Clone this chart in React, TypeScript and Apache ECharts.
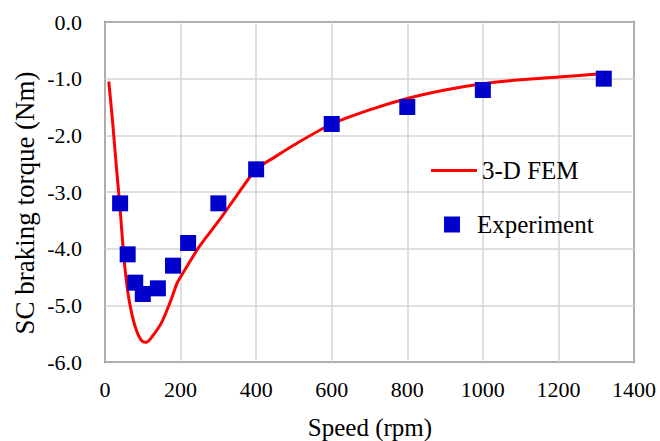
import React, { useEffect, useRef } from "react";
import * as echarts from "echarts";

const femSpeed = [10, 20, 30, 40, 50, 60, 70, 80, 90, 100, 110, 125, 150, 175, 190, 200, 250, 300, 350, 400, 450, 500, 600, 700, 800, 900, 1000, 1100, 1200, 1320];
const femTorque = [-1.05, -1.75, -2.55, -3.3, -4.15, -4.75, -5.12, -5.38, -5.55, -5.64, -5.65, -5.55, -5.3, -4.9, -4.62, -4.5, -3.96, -3.52, -3.05, -2.6, -2.38, -2.17, -1.8, -1.55, -1.35, -1.2, -1.09, -1.02, -0.97, -0.91];
const expSpeed = [40, 60, 80, 100, 140, 180, 220, 300, 400, 600, 800, 1000, 1320];
const expTorque = [-3.2, -4.1, -4.6, -4.8, -4.7, -4.3, -3.9, -3.2, -2.6, -1.8, -1.5, -1.2, -1.0];

const xTitle = "Speed (rpm)";
const yTitle = "SC braking torque (Nm)";
const femName = "3-D FEM";
const expName = "Experiment";

const FONT = "Liberation Serif, Times New Roman, serif";

export default function App() {
  const ref = useRef<HTMLDivElement>(null);
  useEffect(() => {
    if (!ref.current) return;
    const chart = echarts.init(ref.current, undefined, { renderer: "svg" });
    chart.setOption({
      animation: false,
      backgroundColor: "#ffffff",
      textStyle: { fontFamily: FONT },
      grid: {
        left: 105,
        right: 26,
        top: 22,
        bottom: 79,
        show: true,
        borderColor: "#000",
        borderWidth: 1.5,
        backgroundColor: "transparent",
      },
      xAxis: {
        type: "value",
        min: 0,
        max: 1400,
        interval: 200,
        axisLine: { show: false },
        axisTick: { show: false },
        splitLine: { show: true, lineStyle: { color: "#d4d4d4", width: 1.5 } },
        axisLabel: {
          color: "#000",
          fontSize: 22,
          fontFamily: FONT,
          margin: 16,
          formatter: (v: number) => String(v),
        },
      },
      yAxis: {
        type: "value",
        min: -6,
        max: 0,
        interval: 1,
        axisLine: { show: false },
        axisTick: { show: false },
        splitLine: { show: true, lineStyle: { color: "#d4d4d4", width: 1.5 } },
        axisLabel: {
          color: "#000",
          fontSize: 22,
          fontFamily: FONT,
          margin: 23,
          formatter: (v: number) => v.toFixed(1),
        },
      },
      legend: [
        {
          data: [{ name: femName, icon: "rect" }],
          left: 426,
          top: 153,
          itemWidth: 46,
          itemHeight: 3,
          textStyle: { fontSize: 25, fontFamily: FONT, color: "#000" },
        },
        {
          data: [{ name: expName, icon: "rect" }],
          left: 439,
          top: 207,
          itemWidth: 16,
          itemHeight: 16,
          textStyle: { fontSize: 25, fontFamily: FONT, color: "#000", padding: [0, 0, 0, 12] },
        },
      ],
      graphic: [
        {
          type: "text",
          x: 370,
          y: 427,
          style: {
            text: xTitle,
            fontSize: 25,
            fontFamily: FONT,
            fill: "#000",
            align: "center",
            verticalAlign: "middle",
          },
        },
        {
          type: "text",
          x: 25,
          y: 203,
          rotation: Math.PI / 2,
          style: {
            text: yTitle,
            fontSize: 27,
            fontFamily: FONT,
            fill: "#000",
            align: "center",
            verticalAlign: "middle",
          },
        },
      ],
      series: [
        {
          name: femName,
          type: "line",
          data: femSpeed.map((s, i) => [s, femTorque[i]]),
          showSymbol: false,
          symbol: "none",
          smooth: 0.25,
          lineStyle: { color: "#ff0000", width: 3 },
          itemStyle: { color: "#ff0000" },
          z: 2,
        },
        {
          name: expName,
          type: "scatter",
          data: expSpeed.map((s, i) => [s, expTorque[i]]),
          symbol: "rect",
          symbolSize: 16,
          itemStyle: { color: "#0000cc", opacity: 1 },
          z: 3,
        },
      ],
    });
    return () => chart.dispose();
  }, []);
  return (
    <div
      ref={ref}
      style={{ position: "fixed", left: 0, top: 0, width: 660, height: 441 }}
    />
  );
}
